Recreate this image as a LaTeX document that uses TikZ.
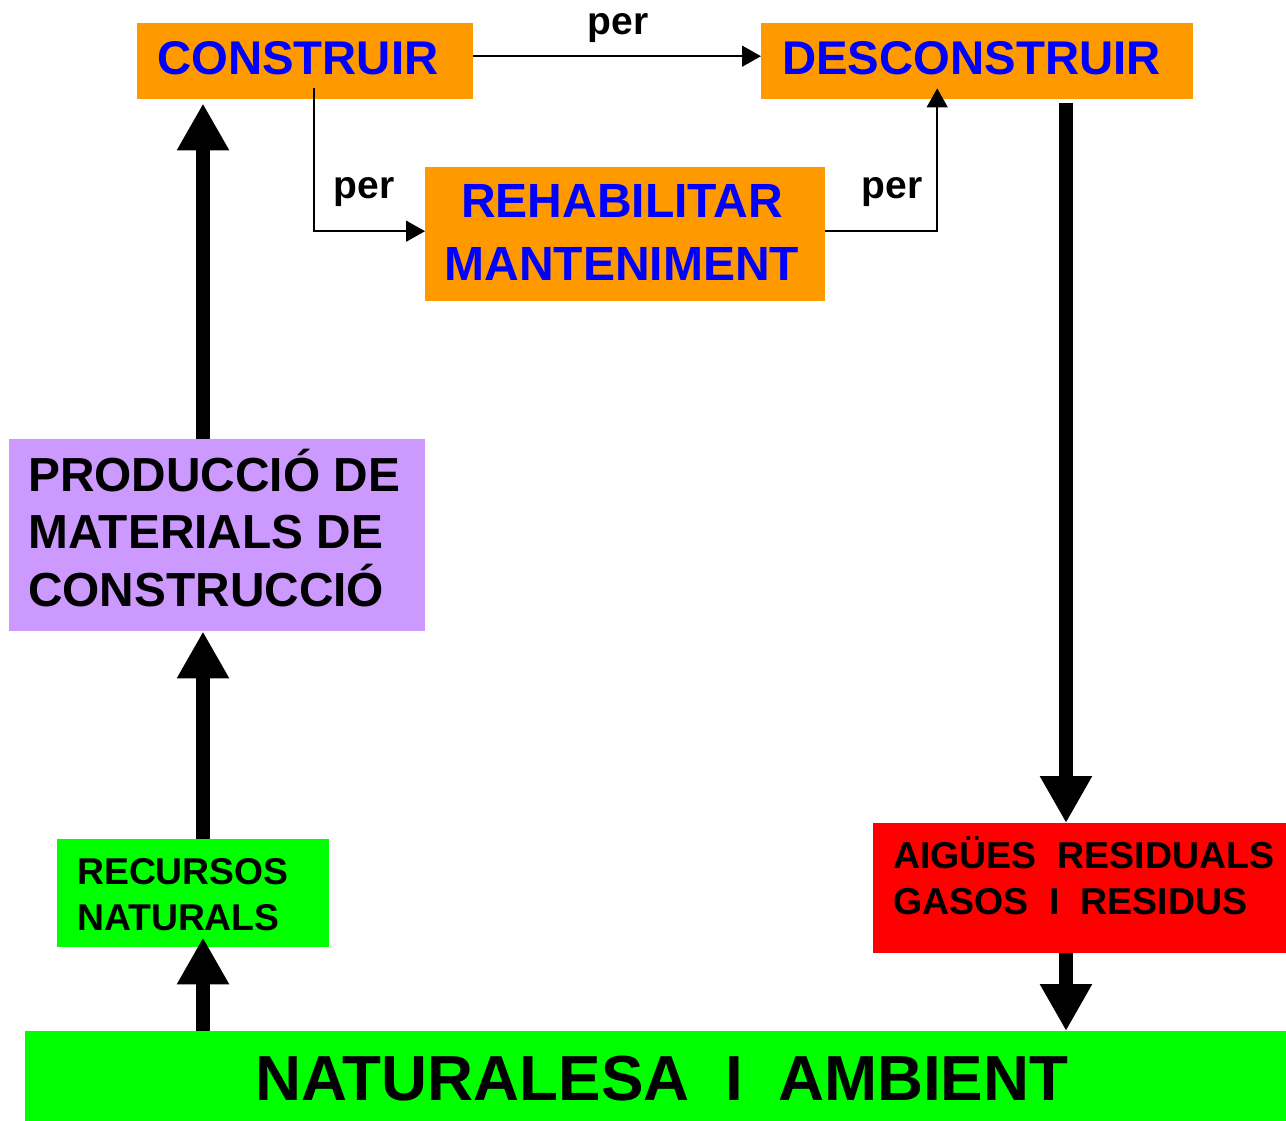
\documentclass[tikz,border=0pt]{standalone}
\usepackage{fontspec}
\setmainfont{Liberation Sans}
\usetikzlibrary{arrows.meta}
\definecolor{orng}{HTML}{FF9900}
\definecolor{lav}{HTML}{CC99FF}
\definecolor{grn}{HTML}{00FF00}
\definecolor{rd}{HTML}{FF0000}
\definecolor{blu}{HTML}{0000FF}
\tikzset{
  box/.style={draw=none, inner sep=0pt, anchor=north west},
  txt/.style={inner sep=0pt, font=\bfseries},
  thinarr/.style={line width=1.5pt, -{Triangle[length=19pt,width=21pt]}},
  thickarr/.style={line width=14pt, -{Triangle[length=47pt,width=49pt]}},
}
\newcommand{\fs}[1]{\fontsize{#1}{#1}\selectfont}
\begin{document}
\begin{tikzpicture}[x=1pt,y=-1pt]
\useasboundingbox (0,0) rectangle (1286,1121);
% boxes
\node[box, fill=orng, minimum width=336pt, minimum height=76pt] (cons) at (137,23) {};
\node[box, fill=orng, minimum width=432pt, minimum height=76pt] (desc) at (761,23) {};
\node[box, fill=orng, minimum width=400pt, minimum height=134pt] (rehab) at (425,167) {};
\node[box, fill=lav, minimum width=416pt, minimum height=192pt] (prod) at (9,439) {};
\node[box, fill=grn, minimum width=272pt, minimum height=108pt] (recur) at (57,839) {};
\node[box, fill=rd, minimum width=413pt, minimum height=130pt] (aig) at (873,823) {};
\node[box, fill=grn, minimum width=1261pt, minimum height=90pt] (nat) at (25,1031) {};
% texts
\node[txt, anchor=base west, text=blu] (tcons) at (157,75) {\fs{47.3}CONSTRUIR};
\node[txt, anchor=base west, text=blu] (tdesc) at (782,75) {\fs{47.3}DESCONSTRUIR};
\node[txt, anchor=base, text=blu] (treh1) at (622,218) {\fs{48}REHABILITAR};
\node[txt, anchor=base, text=blu] (treh2) at (622,280) {\fs{48}MANTENIMENT};
\node[txt, anchor=base west] (tprod1) at (28,491) {\fs{47.8}PRODUCCIÓ DE};
\node[txt, anchor=base west] (tprod2) at (28,548) {\fs{47.8}MATERIALS DE};
\node[txt, anchor=base west] (tprod3) at (28,606) {\fs{47.8}CONSTRUCCIÓ};
\node[txt, anchor=base west] (trec1) at (77,884) {\fs{37.3}RECURSOS};
\node[txt, anchor=base west] (trec2) at (77,930) {\fs{37.3}NATURALS};
\node[txt, anchor=base west] (taig1) at (893,868) {\fs{37.5}AIGÜES~~RESIDUALS};
\node[txt, anchor=base west] (taig2) at (893,914) {\fs{37.5}GASOS~~I~~RESIDUS};
\node[txt, anchor=base] (tnat) at (662,1100) {\fs{63.7}NATURALESA~~I~~AMBIENT};
\node[txt, anchor=base] (per1) at (618,35) {\fs{39}per};
\node[txt, anchor=base] (per2) at (364,199) {\fs{39}per};
\node[txt, anchor=base] (per3) at (892,199) {\fs{39}per};
% axes
\coordinate (axL) at (203,0);
\coordinate (axR) at (1066,0);
% thin connectors
\draw[thinarr] ([yshift=5pt]cons.east) -- ([yshift=5pt]desc.west);
\draw[thinarr] ([shift={(9pt,11pt)}]cons.south) |- ([yshift=3pt]rehab.west);
\draw[thinarr] ([yshift=3pt]rehab.east) -| ([shift={(-40pt,11pt)}]desc.south);
% thick connectors
\draw[thickarr, shorten >=4pt] (prod.north -| axL) -- (cons.south -| axL);
\draw[thickarr] (recur.north -| axL) -- (prod.south -| axL);
\draw[thickarr, shorten >=-10pt] (nat.north -| axL) -- (recur.south -| axL);
\draw[thickarr, shorten <=4pt] (desc.south -| axR) -- (aig.north -| axR);
\draw[thickarr] (aig.south -| axR) -- (nat.north -| axR);
\end{tikzpicture}
\end{document}
